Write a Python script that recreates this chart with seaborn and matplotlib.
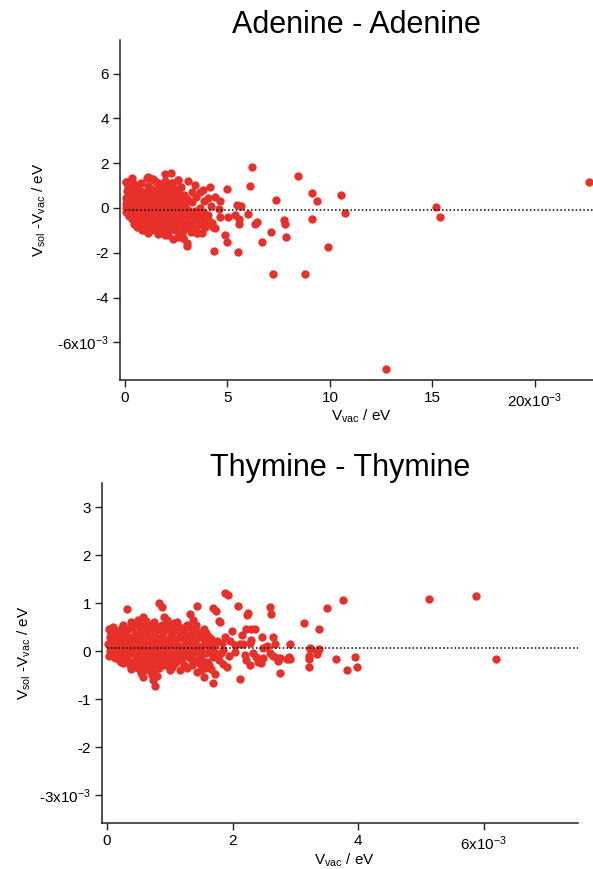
import matplotlib
matplotlib.use('Agg')
import matplotlib.pyplot as plt
import seaborn as sns
from matplotlib.ticker import FuncFormatter

# values in units of 1e-3 eV (axis labels carry the x10^-3)
ade_vac = [
    0.05, 0.08, 0.03, 0.06, 0.04, 0.07,
    0.15, 0.18, 0.12, 0.16, 0.14, 0.19,
    0.30, 0.33, 0.28, 0.31, 0.27, 0.32, 0.35,
    0.45, 0.48, 0.43, 0.47, 0.44, 0.49, 0.46,
    0.60, 0.63, 0.58, 0.62, 0.59, 0.64, 0.61,
    0.80, 0.78, 0.83, 0.79, 0.82, 0.77, 0.81, 0.84,
    0.95, 0.98, 0.93, 0.97, 0.94, 0.99,
    1.10, 1.14, 1.08, 1.12, 1.09, 1.13, 1.11, 1.07, 1.14,
    1.30, 1.33, 1.28, 1.32, 1.29, 1.34, 1.31, 1.27,
    1.45, 1.48, 1.43, 1.47, 1.44, 1.49, 1.46,
    1.60, 1.63, 1.58, 1.62, 1.59, 1.64, 1.61, 1.63,
    1.80, 1.83, 1.78, 1.82, 1.79, 1.84, 1.81,
    1.97, 1.95, 1.99, 1.94, 1.98, 1.96, 1.93, 1.99, 1.95,
    2.10, 2.13, 2.08, 2.12, 2.09, 2.14, 2.11,
    2.24, 2.28, 2.23, 2.27, 2.25, 2.29, 2.26, 2.36,
    2.40, 2.43, 2.38, 2.42, 2.39, 2.44,
    2.60, 2.58, 2.63, 2.57, 2.62, 2.59, 2.61,
    2.75, 2.78, 2.73, 2.77, 2.74, 2.79,
    2.90, 2.93, 2.88, 2.92, 2.89, 2.84,
    3.09, 3.05, 3.08, 3.04, 3.07, 3.01, 3.03,
    3.25, 3.28, 3.23, 3.27, 3.24,
    3.41, 3.48, 3.43, 3.47, 3.44, 3.50,
    3.65, 3.68, 3.63, 3.67, 3.74,
    3.82, 3.88, 3.83, 3.87, 3.90,
    4.15, 4.05, 4.06, 4.08, 4.31,
    4.23, 4.20, 4.39, 4.39, 4.63,
    4.63, 4.60, 4.34, 4.96, 4.88, 4.96,
    5.04, 5.37, 5.45, 5.58, 5.50, 5.66,
    0.03, 0.33, 1.14, 1.38, 1.63, 2.31, 2.60, 2.00,
    0.98, 1.63, 2.11, 2.84, 3.50, 3.90,
    5.58, 6.00, 6.08, 6.18, 6.36, 6.42,
    6.70, 7.14, 7.22, 7.37, 7.77, 7.80, 7.84,
    8.42, 8.80, 9.12, 9.14, 9.35, 9.89, 10.54, 10.72,
    12.73, 15.17, 15.38, 22.65,
]
ade_diff = [
    1.15, 0.75, 0.45, 0.20, 0.00, -0.20,
    0.95, 0.60, 0.30, 0.10, -0.10, -0.35,
    1.25, 0.85, 0.55, 0.25, 0.00, -0.25, -0.50,
    1.05, 0.70, 0.40, 0.15, -0.15, -0.45, -0.70,
    0.90, 0.55, 0.30, 0.05, -0.30, -0.60, -0.85,
    1.10, 0.75, 0.45, 0.15, -0.10, -0.40, -0.75, -1.00,
    0.60, 0.30, 0.00, -0.25, -0.55, -0.95,
    1.35, 1.00, 0.70, 0.40, 0.10, -0.20, -0.50, -0.80, -1.10,
    1.30, 0.85, 0.50, 0.20, -0.10, -0.40, -0.70, -1.00,
    1.20, 0.65, 0.30, 0.00, -0.30, -0.60, -0.90,
    1.10, 0.80, 0.45, 0.15, -0.20, -0.50, -0.85, -1.15,
    0.95, 0.60, 0.25, -0.05, -0.35, -0.70, -1.00,
    1.50, 1.20, 0.80, 0.40, 0.10, -0.25, -0.55, -0.90, -1.20,
    1.00, 0.60, 0.30, 0.00, -0.40, -0.75, -1.05,
    1.58, 1.10, 0.70, 0.35, -0.10, -0.50, -0.85, -1.40,
    0.90, 0.50, 0.15, -0.25, -0.60, -1.00,
    1.25, 0.75, 0.30, -0.05, -0.45, -0.80, -1.30,
    0.95, 0.50, 0.10, -0.30, -0.70, -1.10,
    0.60, 0.20, -0.20, -0.55, -0.95, -1.35,
    1.21, 0.40, -0.10, -0.40, -0.80, -1.70, -1.55,
    0.70, 0.25, -0.30, -0.65, -1.05,
    1.03, 0.50, -0.15, -0.50, -0.90, -1.13,
    0.70, 0.00, -0.35, -0.75, -1.13,
    0.80, 0.30, -0.20, -0.55, -0.83,
    0.92, 0.45, -0.31, -0.60, -0.83,
    -0.68, 0.10, 0.51, -0.91, -0.39,
    0.33, -0.05, -1.90, 0.83, -1.20, -1.50,
    -0.39, -0.31, 0.13, -0.47, -1.95, 0.10,
    1.17, 1.32, 1.37, 1.29, 1.13, 1.10, 1.25, 1.00,
    -0.98, -1.13, -1.20, -1.35, -1.13, -0.83,
    -0.71, -0.28, 1.00, 1.82, -0.71, -0.61,
    -1.52, -1.06, -2.96, 0.37, -0.52, -0.73, -1.29,
    1.44, -2.93, 0.67, -0.50, 0.31, -1.74, 0.58, -0.22,
    -7.19, 0.04, -0.39, 1.15,
]
ade_ref = -0.09

thy_vac = [
    0.03, 0.05, 0.02, 0.04, 0.03,
    0.10, 0.12, 0.09, 0.11, 0.10, 0.13,
    0.18, 0.20, 0.17, 0.19, 0.21,
    0.25, 0.27, 0.24, 0.26, 0.28, 0.25,
    0.32, 0.34, 0.33, 0.35, 0.32, 0.36,
    0.42, 0.44, 0.41, 0.43, 0.45, 0.42,
    0.50, 0.52, 0.49, 0.51, 0.53, 0.50,
    0.58, 0.60, 0.57, 0.59, 0.61, 0.58, 0.57,
    0.66, 0.68, 0.65, 0.67, 0.69, 0.66,
    0.75, 0.77, 0.74, 0.76, 0.78, 0.75, 0.74, 0.76,
    0.83, 0.85, 0.82, 0.84, 0.86, 0.83,
    0.88, 0.91, 0.89, 0.92, 0.90, 0.93,
    0.98, 1.00, 0.97, 0.99, 1.01,
    1.06, 1.08, 1.05, 1.07, 1.09,
    1.14, 1.16, 1.13, 1.15, 1.17,
    1.22, 1.24, 1.21, 1.23,
    1.32, 1.30, 1.29, 1.31, 1.32,
    1.37, 1.39, 1.36, 1.38, 1.43,
    1.44, 1.47, 1.45, 1.48, 1.46,
    1.54, 1.56, 1.53, 1.56, 1.54,
    1.62, 1.64, 1.59, 1.63,
    1.69, 1.73, 1.71, 1.72, 1.69, 1.72,
    1.80, 1.79, 1.83, 1.84, 1.81, 1.91, 1.92,
    1.88, 1.99, 2.04, 2.04, 2.09, 2.12, 2.12,
    2.15, 2.17, 2.20, 2.22, 2.21, 2.23, 2.25, 2.28, 2.29, 2.27,
    2.30, 2.36, 2.33, 2.38, 2.42, 2.45, 2.48, 2.40, 2.47, 2.48,
    2.59, 2.60, 2.61, 2.64, 2.65, 2.68, 2.70, 2.72, 2.76, 2.75, 2.87,
    2.89, 2.91, 2.92, 2.55, 3.13, 3.22, 3.22, 3.21, 3.23, 3.23,
    3.34, 3.35, 3.37, 3.38, 3.50, 3.64, 3.76, 3.82, 3.95, 3.98,
    1.66, 1.75, 1.85, 1.95, 1.68, 1.78, 1.88, 1.96,
    5.13, 5.87, 6.20,
    0.06, 0.06, 0.06, 0.06,
    0.14, 0.14, 0.14, 0.14, 0.14,
    0.22, 0.22, 0.22, 0.22, 0.22, 0.22,
    0.29, 0.29, 0.29, 0.29,
    0.38, 0.38, 0.38, 0.38, 0.38, 0.38,
    0.46, 0.46, 0.46, 0.46, 0.46,
    0.54, 0.54, 0.54, 0.54, 0.54, 0.54,
    0.62, 0.62, 0.62, 0.62, 0.62, 0.62,
    0.71, 0.71, 0.71, 0.71, 0.71, 0.71,
    0.79, 0.79, 0.79, 0.79, 0.79, 0.79,
    0.87, 0.87, 0.87, 0.87, 0.87,
    0.95, 0.95, 0.95, 0.95, 0.95, 0.95,
    1.03, 1.03, 1.03, 1.03,
    1.11, 1.11, 1.11, 1.11,
    1.19, 1.19, 1.19, 1.19,
    1.27, 1.27, 1.27, 1.27, 1.27,
    1.35, 1.35, 1.35, 1.35,
    1.42, 1.42, 1.42, 1.42,
    1.50, 1.50, 1.50, 1.50,
    1.58, 1.58, 1.58, 1.58,
    1.66, 1.66, 1.66,
]
thy_diff = [
    0.45, 0.30, 0.15, 0.00, -0.10,
    0.50, 0.35, 0.20, 0.08, -0.05, -0.15,
    0.40, 0.25, 0.10, -0.05, -0.20,
    0.55, 0.30, 0.15, 0.00, -0.12, -0.25,
    0.87, 0.45, 0.20, 0.05, -0.10, -0.30,
    0.50, 0.35, 0.10, -0.05, -0.20, -0.33,
    0.65, 0.40, 0.20, 0.00, -0.15, -0.35,
    0.70, 0.50, 0.25, 0.05, -0.10, -0.30, -0.55,
    0.55, 0.30, 0.10, -0.05, -0.25, -0.40,
    0.60, 0.35, 0.15, 0.00, -0.20, -0.45, -0.60, -0.73,
    1.01, 0.45, 0.20, 0.05, -0.15, -0.35,
    0.91, 0.70, 0.40, 0.10, -0.10, -0.30,
    0.55, 0.30, 0.00, -0.20, -0.40,
    0.58, 0.45, 0.20, -0.05, -0.25,
    0.51, 0.35, 0.10, -0.10, -0.40,
    0.40, 0.15, -0.05, -0.29,
    0.77, 0.50, 0.20, 0.00, -0.15,
    0.65, 0.45, 0.25, 0.05, -0.43,
    0.94, 0.40, 0.10, -0.10, -0.25,
    0.45, 0.20, -0.05, -0.36, -0.54,
    0.30, 0.10, -0.22, -0.30,
    0.89, 0.84, 0.10, -0.05, -0.67, -0.48,
    0.61, 0.62, 0.17, -0.26, -0.05, -0.33, 1.17,
    1.20, 0.42, 0.13, -0.01, 0.94, 0.15, -0.59,
    0.33, 0.14, -0.08, -0.19, 0.46, 0.75, 0.80, -0.30, 0.23, 0.16,
    0.46, 0.45, -0.05, -0.12, -0.18, -0.25, 0.06, -0.22, 0.30, -0.15,
    -0.03, 0.91, 0.78, 0.30, -0.10, 0.15, -0.15, -0.20, -0.45, -0.15, -0.17,
    -0.12, -0.17, 0.15, 0.10, 0.59, -0.10, -0.17, -0.33, 0.06, 0.04,
    -0.06, -0.02, 0.04, 0.47, 0.89, -0.16, 1.06, -0.39, -0.12, -0.33,
    0.05, 0.20, 0.02, -0.10, -0.12, -0.18, 0.30, 0.22,
    1.08, 1.15, -0.17,
    0.38, 0.22, 0.07, -0.05,
    0.42, 0.27, 0.13, 0.00, -0.10,
    0.47, 0.33, 0.18, 0.03, -0.13, -0.23,
    0.40, 0.22, 0.08, -0.20,
    0.60, 0.30, 0.12, -0.03, -0.22, -0.38,
    0.55, 0.25, 0.05, -0.12, -0.28,
    0.52, 0.30, 0.10, -0.07, -0.25, -0.45,
    0.62, 0.38, 0.15, -0.02, -0.20, -0.35,
    0.45, 0.25, 0.05, -0.12, -0.32, -0.50,
    0.50, 0.27, 0.08, -0.08, -0.28, -0.52,
    0.55, 0.30, 0.12, -0.05, -0.22,
    0.65, 0.45, 0.20, 0.05, -0.12, -0.30,
    0.38, 0.12, -0.10, -0.33,
    0.60, 0.25, 0.02, -0.20,
    0.48, 0.27, 0.05, -0.15,
    0.55, 0.32, 0.10, -0.10, -0.35,
    0.35, 0.15, -0.05, -0.30,
    0.55, 0.25, 0.00, -0.18,
    0.30, 0.08, -0.15, -0.40,
    0.38, 0.15, -0.05, -0.25,
    0.25, 0.00, -0.38,
]
thy_ref = 0.055

red = '#e8302a'
ylab = r'V$_{\mathrm{sol}}$ -V$_{\mathrm{vac}}$ / eV'
xlab = r'V$_{\mathrm{vac}}$ / eV'

sns.set_style('ticks')
plt.rcParams['font.family'] = ['Liberation Sans', 'DejaVu Sans']
plt.rcParams['mathtext.fontset'] = 'custom'
plt.rcParams['mathtext.rm'] = 'Liberation Sans'
plt.rcParams['mathtext.it'] = 'Liberation Sans:italic'
plt.rcParams['text.color'] = 'black'
plt.rcParams['axes.labelcolor'] = 'black'


def sci_fmt(special):
    def f(v, pos):
        if abs(v - special) < 1e-9:
            return '%gx10$^{\\mathrm{-3}}$' % v
        return '%g' % v
    return f


def panel(ax, xs, ys, ref, title, xlim, ylim, xt, yt, xspecial, yspecial, ylab_x, xlab_y):
    sns.scatterplot(x=xs, y=ys, ax=ax, color=red, s=36, linewidth=0, alpha=1)
    ax.hlines(ref, 0, xlim[1], colors='black', linestyles=(0, (1, 1.5)), linewidth=1.1)
    ax.set_xlim(*xlim)
    ax.set_ylim(*ylim)
    ax.set_xticks(xt)
    ax.set_yticks(yt)
    ax.xaxis.set_major_formatter(FuncFormatter(sci_fmt(xspecial)))
    ax.yaxis.set_major_formatter(FuncFormatter(sci_fmt(yspecial)))
    ax.tick_params(direction='out', length=5, width=1, labelsize=11, pad=3,
                   colors='#222222', labelcolor='black')
    for s in ['top', 'right']:
        ax.spines[s].set_visible(False)
    for s in ['left', 'bottom']:
        ax.spines[s].set_linewidth(1.1)
        ax.spines[s].set_color('#222222')
    ax.set_title(title, fontsize=22, pad=3, color='black')
    ax.set_ylabel(ylab, fontsize=11)
    ax.set_xlabel(xlab, fontsize=11)
    ax.yaxis.set_label_coords(ylab_x, 0.5)
    ax.xaxis.set_label_coords(0.51, xlab_y)


fig = plt.figure(figsize=(5.93, 8.69), dpi=100)
ax1 = fig.add_axes([120 / 593, 1 - 380 / 869, 473 / 593, 340 / 869])
ax2 = fig.add_axes([102 / 593, 1 - 823 / 869, 476 / 593, 340 / 869])

panel(ax1, ade_vac, ade_diff, ade_ref, 'Adenine - Adenine',
      (-0.24, 22.83), (-7.68, 7.5), [0, 5, 10, 15, 20], [-6, -4, -2, 0, 2, 4, 6],
      20, -6, -0.152, -0.082)
panel(ax2, thy_vac, thy_diff, thy_ref, 'Thymine - Thymine',
      (-0.08, 7.5), (-3.58, 3.5), [0, 2, 4, 6], [-3, -2, -1, 0, 1, 2, 3],
      6, -3, -0.145, -0.084)

fig.savefig('out.png', dpi=100)
